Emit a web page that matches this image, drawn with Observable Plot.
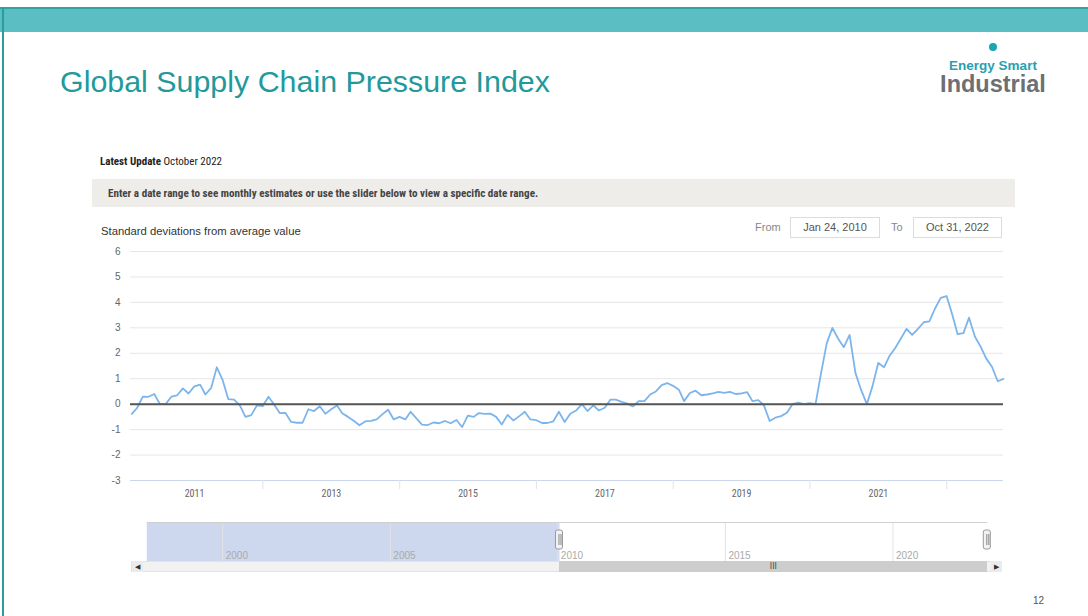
<!DOCTYPE html>
<html><head><meta charset="utf-8">
<script src="https://cdn.jsdelivr.net/npm/d3@7"></script>
<script src="https://cdn.jsdelivr.net/npm/@observablehq/plot@0.6"></script>
<style>
html,body{margin:0;padding:0;background:#fff;}
#page{position:relative;width:1088px;height:616px;overflow:hidden;font-family:"Liberation Sans",Arial,sans-serif;}
.abs{position:absolute;white-space:nowrap;line-height:1;}
.narrow{font-family:"Liberation Sans Narrow","Roboto Condensed","Liberation Sans",Arial,sans-serif;}
#band{left:0;top:7px;width:1088px;height:25px;background:#5bbec3;border-top:2px solid #2fa3a7;box-sizing:border-box;}
#leftline{left:2px;top:7px;width:2px;height:609px;background:#2a9d9f;}
#title{left:60px;top:66px;font-size:30.4px;color:#22999a;}
#logoDot{left:989px;top:43px;width:8px;height:8px;border-radius:50%;background:#1aa6b4;}
#logo1{left:933px;width:120px;text-align:center;top:59px;font-size:13.5px;font-weight:bold;color:#2a9fb0;}
#logo2{left:923px;width:140px;text-align:center;top:73px;font-size:23.5px;font-weight:bold;color:#6e6f72;}
#latest{left:100px;top:156px;font-size:11px;color:#222;}
#banner{left:92px;top:179px;width:923px;height:28px;background:#efede9;}
#bannerText{left:108px;top:188px;font-size:11.1px;font-weight:bold;color:#444;}
#ylab{left:101px;top:226px;font-size:11.3px;color:#333;}
.lbl{font-size:11px;color:#888;}
.box{border:1px solid #dcdcdc;height:21px;box-sizing:border-box;font-size:11px;color:#555;text-align:center;line-height:19px;}
#chart{left:90px;top:240px;}
#nav{left:130px;top:520px;}
#track{left:131px;top:561px;width:871px;height:11px;background:#f2f2f2;border:1px solid #e2e2e2;box-sizing:border-box;}
#thumb{top:561px;height:11px;background:#cdcdcd;font-size:8px;color:#444;text-align:center;line-height:11px;font-family:"DejaVu Sans",sans-serif;}
.btn{top:561px;width:11px;height:11px;font-size:7px;color:#333;text-align:center;line-height:11px;background:#ebebeb;}
#pnum{left:1033px;top:596px;font-size:10px;color:#555;}
</style></head>
<body><div id="page">
<div id="band" class="abs"></div>
<div id="leftline" class="abs"></div>
<div id="title" class="abs">Global Supply Chain Pressure Index</div>
<div id="logoDot" class="abs"></div>
<div id="logo1" class="abs">Energy Smart</div>
<div id="logo2" class="abs">Industrial</div>
<div id="latest" class="abs narrow"><b>Latest Update</b> October 2022</div>
<div id="banner" class="abs"></div>
<div id="bannerText" class="abs narrow">Enter a date range to see monthly estimates or use the slider below to view a specific date range.</div>
<div id="ylab" class="abs">Standard deviations from average value</div>
<div class="abs lbl" style="left:755px;top:222px;">From</div>
<div class="abs box" style="left:790px;top:217px;width:90px;">Jan 24, 2010</div>
<div class="abs lbl" style="left:891px;top:222px;">To</div>
<div class="abs box" style="left:913px;top:217px;width:89px;">Oct 31, 2022</div>
<div id="chart" class="abs"></div>
<div id="nav" class="abs"></div>
<div id="track" class="abs"></div>
<div id="thumb" class="abs">III</div>
<div class="abs btn" style="left:132px;">&#9664;</div>
<div class="abs btn" style="left:991px;">&#9654;</div>
<div id="pnum" class="abs">12</div>
</div>
<script>
// ---- data ----
const rangeStart = "2010-01-24";
const rangeEnd = "2022-10-31";
const firstMonth = "2010-01"; // monthly observations, month-end dated
const gscpi = [
 -0.38,-0.15,0.30,0.29,0.40,0.00,0.00,0.30,0.35,0.62,0.42,0.70,
 0.77,0.38,0.64,1.45,0.95,0.20,0.18,-0.05,-0.50,-0.43,-0.05,-0.08,
 0.29,0.00,-0.35,-0.34,-0.70,-0.73,-0.73,-0.20,-0.27,-0.08,-0.38,-0.20,
 -0.05,-0.36,-0.50,-0.65,-0.83,-0.68,-0.66,-0.60,-0.40,-0.22,-0.60,-0.50,
 -0.60,-0.30,-0.56,-0.80,-0.82,-0.72,-0.75,-0.66,-0.75,-0.62,-0.90,-0.45,
 -0.50,-0.35,-0.38,-0.37,-0.50,-0.80,-0.42,-0.64,-0.48,-0.30,-0.60,-0.63,
 -0.74,-0.74,-0.68,-0.30,-0.70,-0.38,-0.25,0.00,-0.27,-0.05,-0.25,-0.14,
 0.18,0.18,0.09,0.02,-0.09,0.12,0.12,0.38,0.50,0.75,0.83,0.72,
 0.57,0.12,0.44,0.53,0.35,0.38,0.42,0.48,0.44,0.48,0.40,0.42,
 0.47,0.12,0.16,-0.04,-0.66,-0.53,-0.47,-0.34,0.00,0.06,0.00,0.04,
 0.00,1.20,2.40,3.00,2.57,2.24,2.72,1.23,0.57,0.00,0.70,1.62,
 1.45,1.88,2.20,2.57,2.96,2.72,2.96,3.22,3.25,3.77,4.18,4.25,
 3.50,2.75,2.79,3.40,2.66,2.27,1.79,1.46,0.90,0.99
];
const yTicks = [-3,-2,-1,0,1,2,3,4,5,6];
const xLabelYears = ["2011","2013","2015","2017","2019","2021"];
const xTickYears = ["2012","2014","2016","2018","2020","2022"];
const navYears = ["2000","2005","2010","2015","2020"];
const navDomain = ["1997-04-01","2023-04-20"];
const navShade = [{start: "1997-10-01", end: "2010-01-24"}];

// ---- build ----
const parse = d3.utcParse("%Y-%m-%d");
const parseY = d3.utcParse("%Y");
const m0 = d3.utcParse("%Y-%m")(firstMonth);
const rows = gscpi.map((v, i) => ({
  date: d3.utcDay.offset(d3.utcMonth.offset(m0, i + 1), -1),
  value: v
}));
const narrowFont = '"Liberation Sans Narrow","Roboto Condensed","Liberation Sans",Arial,sans-serif';

const chart = Plot.plot({
  width: 925, height: 270,
  marginLeft: 40, marginRight: 12, marginTop: 11, marginBottom: 30,
  style: {fontFamily: '"Liberation Sans",Arial,sans-serif', fontSize: "10px", background: "transparent", overflow: "visible"},
  x: {type: "utc", domain: [parse(rangeStart), parse(rangeEnd)], label: null},
  y: {domain: [-3, 6], label: null},
  marks: [
    Plot.gridY(yTicks, {stroke: "#e6e6e6", strokeOpacity: 1}),
    Plot.ruleY([-3], {stroke: "#ccd6eb"}),
    Plot.axisY(yTicks, {tickSize: 0, tickPadding: 10, fill: "#666", fontSize: 10, tickFormat: d => String(d)}),
    Plot.axisX(xTickYears.map(parseY), {tickSize: 9, tickFormat: () => "", stroke: "#e3e3e3"}),
    Plot.axisX(xLabelYears.map(parseY), {tickSize: 0, tickPadding: 9, tickFormat: d3.utcFormat("%Y"), fill: "#666", fontSize: 10, fontFamily: narrowFont}),
    Plot.line(rows, {x: "date", y: "value", stroke: "#7cb5ec", strokeWidth: 1.8}),
    Plot.ruleY([0], {stroke: "#555", strokeWidth: 2})
  ]
});
document.getElementById("chart").append(chart);

const rangeDates = [parse(rangeStart), parse(rangeEnd)];
const nav = Plot.plot({
  width: 873, height: 41, margin: 0,
  style: {background: "transparent", overflow: "visible", fontFamily: '"Liberation Sans",Arial,sans-serif'},
  x: {type: "utc", domain: navDomain.map(parse), axis: null},
  y: {domain: [0, 1], axis: null},
  marks: [
    Plot.rect(navShade, {x1: d => parse(d.start), x2: d => parse(d.end), insetTop: 2, fill: "#cdd7ee"}),
    Plot.ruleX(navYears.map(parseY), {stroke: "#e2e2e2", insetTop: 2}),
    Plot.ruleY([1], {x1: () => parse(navShade[0].start), x2: () => rangeDates[1], stroke: "#d0d0d0", dy: 2}),
    Plot.text(navYears.map(parseY), {x: d => d, text: d3.utcFormat("%Y"), frameAnchor: "bottom", textAnchor: "start", dx: 3, dy: -3, fill: "#aaa", fontSize: 10, letterSpacing: 0.5}),
    Plot.rect(rangeDates, {x1: d => d, x2: d => d, insetLeft: -4, insetRight: -3, insetTop: 10, insetBottom: 12, fill: "#f2f2f2", stroke: "#999", rx: 2}),
    Plot.ruleX(rangeDates, {insetTop: 14, insetBottom: 16, stroke: "#888", dx: -1}),
    Plot.ruleX(rangeDates, {insetTop: 14, insetBottom: 16, stroke: "#888", dx: 1})
  ]
});
document.getElementById("nav").append(nav);

const sx = nav.scale("x");
const navLeft = 130;
const t0 = navLeft + sx.apply(rangeDates[0]);
const t1 = navLeft + sx.apply(rangeDates[1]);
const thumb = document.getElementById("thumb");
thumb.style.left = t0 + "px";
thumb.style.width = (t1 - t0) + "px";
</script>
</body></html>
